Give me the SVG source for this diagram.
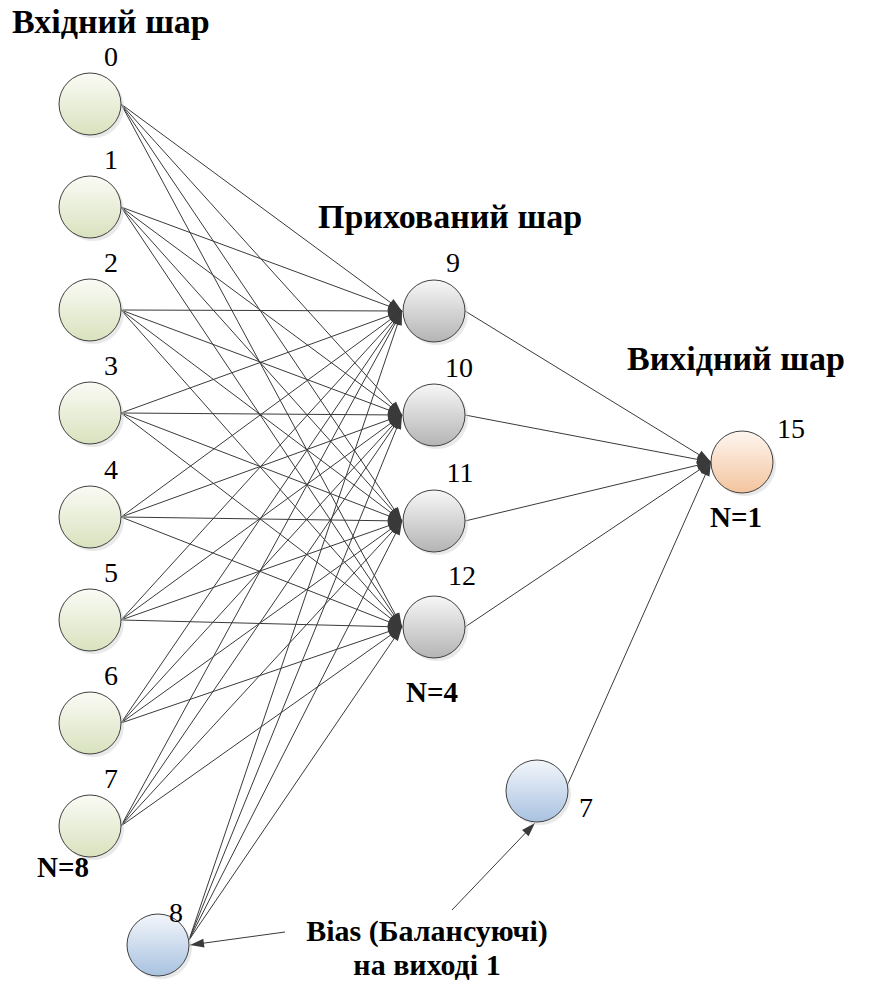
<svg xmlns="http://www.w3.org/2000/svg" width="872" height="981" viewBox="0 0 872 981">
  <defs>
    <linearGradient id="gIn" x1="0" y1="0" x2="0" y2="1">
      <stop offset="0" stop-color="#fafbf5"/>
      <stop offset="1" stop-color="#d9e2be"/>
    </linearGradient>
    <linearGradient id="gHid" x1="0" y1="0" x2="0" y2="1">
      <stop offset="0" stop-color="#f7f7f7"/>
      <stop offset="1" stop-color="#b4b4b4"/>
    </linearGradient>
    <linearGradient id="gOut" x1="0" y1="0" x2="0" y2="1">
      <stop offset="0" stop-color="#fef6f0"/>
      <stop offset="1" stop-color="#f3c49e"/>
    </linearGradient>
    <linearGradient id="gBias" x1="0" y1="0" x2="0" y2="1">
      <stop offset="0" stop-color="#f3f6fb"/>
      <stop offset="1" stop-color="#a8c2e0"/>
    </linearGradient>
  </defs>

  <rect width="872" height="981" fill="#ffffff"/>

  <!-- layer captions -->
  <g font-weight="bold" fill="#000">
    <text style="font-family: 'Liberation Serif', serif; font-size: 34px" x="12" y="33">Вхідний шар</text>
    <text style="font-family: 'Liberation Serif', serif; font-size: 34px" x="318" y="228">Прихований шар</text>
    <text style="font-family: 'Liberation Serif', serif; font-size: 34px" x="627" y="370">Вихідний шар</text>
    <text style="font-family: 'Liberation Serif', serif; font-size: 29px" x="37" y="877">N=8</text>
    <text style="font-family: 'Liberation Serif', serif; font-size: 29px" x="406" y="702">N=4</text>
    <text style="font-family: 'Liberation Serif', serif; font-size: 29px" x="710" y="527">N=1</text>
    <text style="font-family: 'Liberation Serif', serif; font-size: 30px" x="427" y="941" text-anchor="middle">Bias (Балансуючі)</text>
    <text style="font-family: 'Liberation Serif', serif; font-size: 30px" x="427" y="975" text-anchor="middle">на виході 1</text>
  </g>

  <!-- connectors: lines, then arrowheads (tip at origin, rotated along each line) -->
  <g id="connectors">
    <g stroke="#3a3a3a" stroke-width="1" fill="none">
      <!-- input 0..7 to hidden 9..12 -->
      <path d="M121,104 L402,311 M121,104 L402,415 M121,104 L402,521 M121,104 L402,627"/>
      <path d="M121,207 L402,311 M121,207 L402,415 M121,207 L402,521 M121,207 L402,627"/>
      <path d="M121,310 L402,311 M121,310 L402,415 M121,310 L402,521 M121,310 L402,627"/>
      <path d="M121,413 L402,311 M121,413 L402,415 M121,413 L402,521 M121,413 L402,627"/>
      <path d="M121,517 L402,311 M121,517 L402,415 M121,517 L402,521 M121,517 L402,627"/>
      <path d="M121,620 L402,311 M121,620 L402,415 M121,620 L402,521 M121,620 L402,627"/>
      <path d="M121,723 L402,311 M121,723 L402,415 M121,723 L402,521 M121,723 L402,627"/>
      <path d="M121,826 L402,311 M121,826 L402,415 M121,826 L402,521 M121,826 L402,627"/>
      <!-- bias 8 to hidden -->
      <path d="M189,940 L402,311 M189,940 L402,415 M189,940 L402,521 M189,940 L402,627"/>
      <!-- hidden to output -->
      <path d="M465,311 L711,462 M465,415 L711,462 M465,521 L711,462 M465,627 L711,462"/>
      <!-- bias 7 to output -->
      <path d="M567,786 L711,462"/>
      <!-- caption pointers to bias nodes -->
      <path d="M285,932 L190,945"/>
      <path d="M452,910 L535,823"/>
    </g>
    <g fill="#3a3a3a" stroke="none">
      <!-- into hidden 9 -->
      <path d="M0,0 L-14,-4.5 L-14,4.5 Z" transform="translate(402,311) rotate(36.38)"/>
      <path d="M0,0 L-14,-4.5 L-14,4.5 Z" transform="translate(402,311) rotate(20.31)"/>
      <path d="M0,0 L-14,-4.5 L-14,4.5 Z" transform="translate(402,311) rotate(0.2)"/>
      <path d="M0,0 L-14,-4.5 L-14,4.5 Z" transform="translate(402,311) rotate(-19.95)"/>
      <path d="M0,0 L-14,-4.5 L-14,4.5 Z" transform="translate(402,311) rotate(-36.24)"/>
      <path d="M0,0 L-14,-4.5 L-14,4.5 Z" transform="translate(402,311) rotate(-47.71)"/>
      <path d="M0,0 L-14,-4.5 L-14,4.5 Z" transform="translate(402,311) rotate(-55.7)"/>
      <path d="M0,0 L-14,-4.5 L-14,4.5 Z" transform="translate(402,311) rotate(-61.38)"/>
      <path d="M0,0 L-14,-4.5 L-14,4.5 Z" transform="translate(402,311) rotate(-71.29)"/>
      <!-- into hidden 10 -->
      <path d="M0,0 L-14,-4.5 L-14,4.5 Z" transform="translate(402,415) rotate(47.9)"/>
      <path d="M0,0 L-14,-4.5 L-14,4.5 Z" transform="translate(402,415) rotate(36.51)"/>
      <path d="M0,0 L-14,-4.5 L-14,4.5 Z" transform="translate(402,415) rotate(20.49)"/>
      <path d="M0,0 L-14,-4.5 L-14,4.5 Z" transform="translate(402,415) rotate(0.41)"/>
      <path d="M0,0 L-14,-4.5 L-14,4.5 Z" transform="translate(402,415) rotate(-19.95)"/>
      <path d="M0,0 L-14,-4.5 L-14,4.5 Z" transform="translate(402,415) rotate(-36.11)"/>
      <path d="M0,0 L-14,-4.5 L-14,4.5 Z" transform="translate(402,415) rotate(-47.63)"/>
      <path d="M0,0 L-14,-4.5 L-14,4.5 Z" transform="translate(402,415) rotate(-55.64)"/>
      <path d="M0,0 L-14,-4.5 L-14,4.5 Z" transform="translate(402,415) rotate(-67.94)"/>
      <!-- into hidden 11 -->
      <path d="M0,0 L-14,-4.5 L-14,4.5 Z" transform="translate(402,521) rotate(56.02)"/>
      <path d="M0,0 L-14,-4.5 L-14,4.5 Z" transform="translate(402,521) rotate(48.17)"/>
      <path d="M0,0 L-14,-4.5 L-14,4.5 Z" transform="translate(402,521) rotate(36.9)"/>
      <path d="M0,0 L-14,-4.5 L-14,4.5 Z" transform="translate(402,521) rotate(21.02)"/>
      <path d="M0,0 L-14,-4.5 L-14,4.5 Z" transform="translate(402,521) rotate(0.82)"/>
      <path d="M0,0 L-14,-4.5 L-14,4.5 Z" transform="translate(402,521) rotate(-19.41)"/>
      <path d="M0,0 L-14,-4.5 L-14,4.5 Z" transform="translate(402,521) rotate(-35.71)"/>
      <path d="M0,0 L-14,-4.5 L-14,4.5 Z" transform="translate(402,521) rotate(-47.35)"/>
      <path d="M0,0 L-14,-4.5 L-14,4.5 Z" transform="translate(402,521) rotate(-63.06)"/>
      <!-- into hidden 12 -->
      <path d="M0,0 L-14,-4.5 L-14,4.5 Z" transform="translate(402,627) rotate(61.75)"/>
      <path d="M0,0 L-14,-4.5 L-14,4.5 Z" transform="translate(402,627) rotate(56.21)"/>
      <path d="M0,0 L-14,-4.5 L-14,4.5 Z" transform="translate(402,627) rotate(48.45)"/>
      <path d="M0,0 L-14,-4.5 L-14,4.5 Z" transform="translate(402,627) rotate(37.29)"/>
      <path d="M0,0 L-14,-4.5 L-14,4.5 Z" transform="translate(402,627) rotate(21.38)"/>
      <path d="M0,0 L-14,-4.5 L-14,4.5 Z" transform="translate(402,627) rotate(1.43)"/>
      <path d="M0,0 L-14,-4.5 L-14,4.5 Z" transform="translate(402,627) rotate(-18.86)"/>
      <path d="M0,0 L-14,-4.5 L-14,4.5 Z" transform="translate(402,627) rotate(-35.31)"/>
      <path d="M0,0 L-14,-4.5 L-14,4.5 Z" transform="translate(402,627) rotate(-55.77)"/>
      <!-- into output 15 -->
      <path d="M0,0 L-14,-4.5 L-14,4.5 Z" transform="translate(711,462) rotate(31.54)"/>
      <path d="M0,0 L-14,-4.5 L-14,4.5 Z" transform="translate(711,462) rotate(10.82)"/>
      <path d="M0,0 L-14,-4.5 L-14,4.5 Z" transform="translate(711,462) rotate(-13.49)"/>
      <path d="M0,0 L-14,-4.5 L-14,4.5 Z" transform="translate(711,462) rotate(-33.85)"/>
      <path d="M0,0 L-14,-4.5 L-14,4.5 Z" transform="translate(711,462) rotate(-66.04)"/>
      <!-- caption pointers -->
      <path d="M0,0 L-14,-4.5 L-14,4.5 Z" transform="translate(190,945) rotate(172.21)"/>
      <path d="M0,0 L-14,-4.5 L-14,4.5 Z" transform="translate(535,823) rotate(-46.35)"/>
    </g>
  </g>

  <!-- input layer -->
  <g stroke="#404040" stroke-width="1" fill="url(#gIn)">
    <g id="in0"><circle cx="93" cy="107" r="31" fill="#d4d4d4" stroke="none" opacity="0.5"/><circle cx="90" cy="104" r="31"/><text stroke="none" fill="#000" text-anchor="middle" style="font-family: 'Liberation Serif', serif; font-size: 28px" x="111" y="66">0</text></g>
    <g id="in1"><circle cx="93" cy="210" r="31" fill="#d4d4d4" stroke="none" opacity="0.5"/><circle cx="90" cy="207" r="31"/><text stroke="none" fill="#000" text-anchor="middle" style="font-family: 'Liberation Serif', serif; font-size: 28px" x="111" y="169">1</text></g>
    <g id="in2"><circle cx="93" cy="313" r="31" fill="#d4d4d4" stroke="none" opacity="0.5"/><circle cx="90" cy="310" r="31"/><text stroke="none" fill="#000" text-anchor="middle" style="font-family: 'Liberation Serif', serif; font-size: 28px" x="111" y="272">2</text></g>
    <g id="in3"><circle cx="93" cy="416" r="31" fill="#d4d4d4" stroke="none" opacity="0.5"/><circle cx="90" cy="413" r="31"/><text stroke="none" fill="#000" text-anchor="middle" style="font-family: 'Liberation Serif', serif; font-size: 28px" x="111" y="375">3</text></g>
    <g id="in4"><circle cx="93" cy="520" r="31" fill="#d4d4d4" stroke="none" opacity="0.5"/><circle cx="90" cy="517" r="31"/><text stroke="none" fill="#000" text-anchor="middle" style="font-family: 'Liberation Serif', serif; font-size: 28px" x="111" y="479">4</text></g>
    <g id="in5"><circle cx="93" cy="623" r="31" fill="#d4d4d4" stroke="none" opacity="0.5"/><circle cx="90" cy="620" r="31"/><text stroke="none" fill="#000" text-anchor="middle" style="font-family: 'Liberation Serif', serif; font-size: 28px" x="111" y="582">5</text></g>
    <g id="in6"><circle cx="93" cy="726" r="31" fill="#d4d4d4" stroke="none" opacity="0.5"/><circle cx="90" cy="723" r="31"/><text stroke="none" fill="#000" text-anchor="middle" style="font-family: 'Liberation Serif', serif; font-size: 28px" x="111" y="685">6</text></g>
    <g id="in7"><circle cx="93" cy="829" r="31" fill="#d4d4d4" stroke="none" opacity="0.5"/><circle cx="90" cy="826" r="31"/><text stroke="none" fill="#000" text-anchor="middle" style="font-family: 'Liberation Serif', serif; font-size: 28px" x="111" y="788">7</text></g>
  </g>

  <!-- bias units -->
  <g stroke="#404040" stroke-width="1" fill="url(#gBias)">
    <g id="bias8"><circle cx="161" cy="948" r="31" fill="#d4d4d4" stroke="none" opacity="0.5"/><circle cx="158" cy="945" r="31"/><text stroke="none" fill="#000" text-anchor="middle" style="font-family: 'Liberation Serif', serif; font-size: 28px" x="176" y="922">8</text></g>
    <g id="bias7"><circle cx="540" cy="794" r="31" fill="#d4d4d4" stroke="none" opacity="0.5"/><circle cx="537" cy="791" r="31"/><text stroke="none" fill="#000" text-anchor="middle" style="font-family: 'Liberation Serif', serif; font-size: 28px" x="586" y="817">7</text></g>
  </g>

  <!-- hidden layer -->
  <g stroke="#404040" stroke-width="1" fill="url(#gHid)">
    <g id="h9"><circle cx="437" cy="314" r="31" fill="#d4d4d4" stroke="none" opacity="0.5"/><circle cx="434" cy="311" r="31"/><text stroke="none" fill="#000" text-anchor="middle" style="font-family: 'Liberation Serif', serif; font-size: 28px" x="453" y="272">9</text></g>
    <g id="h10"><circle cx="437" cy="418" r="31" fill="#d4d4d4" stroke="none" opacity="0.5"/><circle cx="434" cy="415" r="31"/><text stroke="none" fill="#000" text-anchor="middle" style="font-family: 'Liberation Serif', serif; font-size: 28px" x="459" y="377">10</text></g>
    <g id="h11"><circle cx="437" cy="524" r="31" fill="#d4d4d4" stroke="none" opacity="0.5"/><circle cx="434" cy="521" r="31"/><text stroke="none" fill="#000" text-anchor="middle" style="font-family: 'Liberation Serif', serif; font-size: 28px" x="460" y="482">11</text></g>
    <g id="h12"><circle cx="437" cy="630" r="31" fill="#d4d4d4" stroke="none" opacity="0.5"/><circle cx="434" cy="627" r="31"/><text stroke="none" fill="#000" text-anchor="middle" style="font-family: 'Liberation Serif', serif; font-size: 28px" x="462" y="585">12</text></g>
  </g>

  <!-- output layer -->
  <g stroke="#404040" stroke-width="1" fill="url(#gOut)">
    <g id="out15"><circle cx="745" cy="465" r="31" fill="#d4d4d4" stroke="none" opacity="0.5"/><circle cx="742" cy="462" r="31"/><text stroke="none" fill="#000" text-anchor="middle" style="font-family: 'Liberation Serif', serif; font-size: 28px" x="791" y="438">15</text></g>
  </g>
</svg>
